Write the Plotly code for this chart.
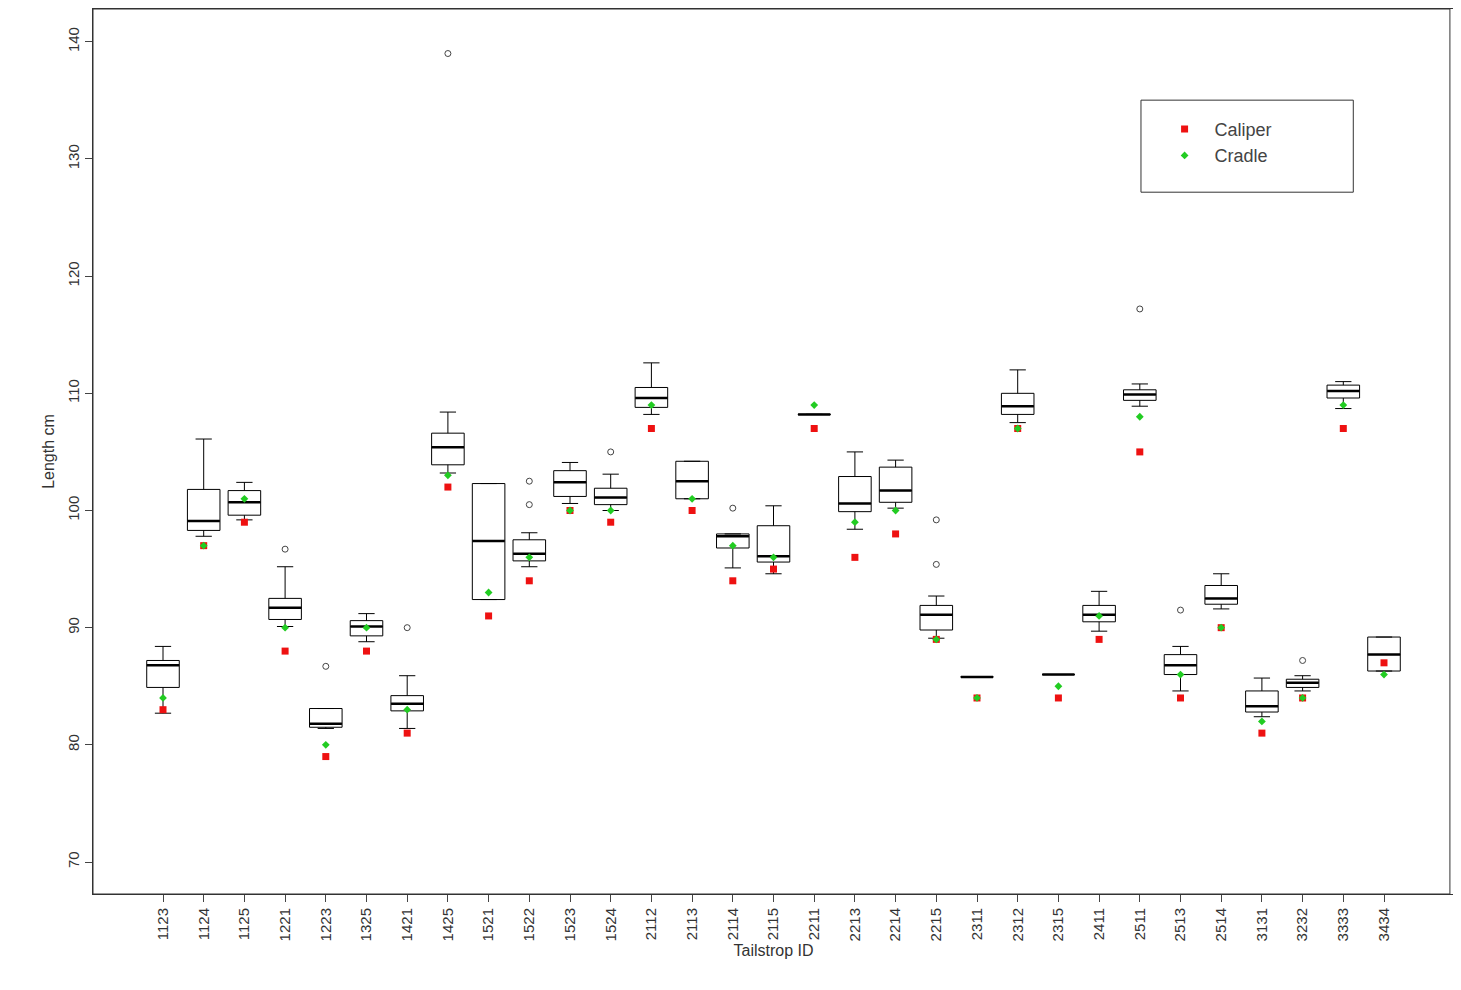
import plotly.graph_objects as go

ids = ["1123", "1124", "1125", "1221", "1223", "1325", "1421", "1425", "1521", "1522",
       "1523", "1524", "2112", "2113", "2114", "2115", "2211", "2213", "2214", "2215",
       "2311", "2312", "2315", "2411", "2511", "2513", "2514", "3131", "3232", "3333", "3434"]

lower = [82.7, 97.8, 99.2, 90.1, 81.4, 88.8, 81.4, 103.2, 92.4, 95.2,
         100.6, 100.0, 108.2, 101.0, 95.1, 94.6, 108.2, 98.4, 100.2, 89.1,
         85.8, 107.5, 86.0, 89.7, 108.9, 84.6, 91.6, 82.4, 84.6, 108.7, 86.3]
q1 = [84.9, 98.3, 99.6, 90.7, 81.5, 89.3, 82.9, 103.9, 92.4, 95.7,
      101.2, 100.5, 108.8, 101.0, 96.8, 95.6, 108.2, 99.9, 100.7, 89.8,
      85.8, 108.2, 86.0, 90.5, 109.4, 86.0, 92.0, 82.8, 84.9, 109.6, 86.3]
median = [86.8, 99.1, 100.7, 91.7, 81.8, 90.1, 83.5, 105.4, 97.4, 96.3,
          102.4, 101.1, 109.6, 102.5, 97.8, 96.1, 108.2, 100.6, 101.7, 91.1,
          85.8, 108.9, 86.0, 91.1, 109.9, 86.8, 92.5, 83.3, 85.3, 110.2, 87.7]
q3 = [87.2, 101.8, 101.7, 92.5, 83.1, 90.6, 84.2, 106.6, 102.3, 97.5,
      103.4, 101.9, 110.5, 104.2, 98.0, 98.7, 108.2, 102.9, 103.7, 91.9,
      85.8, 110.0, 86.0, 91.9, 110.3, 87.7, 93.6, 84.6, 85.6, 110.7, 89.2]
upper = [88.4, 106.1, 102.4, 95.2, 83.1, 91.2, 85.9, 108.4, 102.3, 98.1,
         104.1, 103.1, 112.6, 104.2, 98.0, 100.4, 108.2, 105.0, 104.3, 92.7,
         85.8, 112.0, 86.0, 93.1, 110.8, 88.4, 94.6, 85.7, 85.9, 111.0, 89.2]

outlier_ids = ["1221", "1223", "1421", "1425", "1522", "1522", "1524", "2114",
               "2215", "2215", "2511", "2513", "3232"]
outlier_vals = [96.7, 86.7, 90.0, 139.0, 102.5, 100.5, 105.0, 100.2,
                99.2, 95.4, 117.2, 91.5, 87.2]

caliper = [83, 97, 99, 88, 79, 88, 81, 102, 91, 94, 100, 99, 107, 100, 94, 95, 107, 96, 98, 89,
           84, 107, 84, 89, 105, 84, 90, 81, 84, 107, 87]
cradle = [84, 97, 101, 90, 80, 90, 83, 103, 93, 96, 100, 100, 109, 101, 97, 96, 109, 99, 100, 89,
          84, 107, 85, 91, 108, 86, 90, 82, 84, 109, 86]

fig = go.Figure()

fig.add_trace(go.Box(
    x=ids, q1=q1, median=median, q3=q3, lowerfence=lower, upperfence=upper,
    boxpoints=False, width=0.8, whiskerwidth=0.5,
    fillcolor="white", line=dict(color="black", width=1),
    showlegend=False, hoverinfo="skip",
))

# thick median bars, R style
fig.add_trace(go.Scatter(
    x=ids, y=median, mode="markers",
    marker=dict(symbol="line-ew", size=23, line=dict(color="black", width=2.5)),
    showlegend=False,
))

fig.add_trace(go.Scatter(
    x=outlier_ids, y=outlier_vals, mode="markers",
    marker=dict(symbol="circle-open", size=6, color="#444", line=dict(width=1)),
    showlegend=False,
))

fig.add_trace(go.Scatter(
    x=ids, y=caliper, mode="markers", name="Caliper",
    marker=dict(symbol="square", size=7, color="#ee1111"),
))
fig.add_trace(go.Scatter(
    x=ids, y=cradle, mode="markers", name="Cradle",
    marker=dict(symbol="diamond", size=6, color="#22cc22"),
))

# legend frame and plot frame
fig.add_shape(type="rect", xref="paper", yref="paper",
              x0=0.77, x1=0.926, y0=0.793, y1=0.897,
              line=dict(color="#333", width=1))
fig.add_shape(type="rect", xref="paper", yref="paper",
              x0=0, x1=0.997, y0=0, y1=1,
              line=dict(color="#333", width=1))

fig.update_layout(
    width=1450, height=975,
    margin=dict(l=85, r=4, t=1, b=89),
    plot_bgcolor="white", paper_bgcolor="white",
    font=dict(family="Liberation Sans, Arial", size=15, color="#333"),
    legend=dict(x=0.78, y=0.885, xanchor="left", yanchor="top",
                bgcolor="rgba(0,0,0,0)", font=dict(size=18, color="#444"),
                itemwidth=50, tracegroupgap=6),
)
fig.update_xaxes(
    type="category", categoryorder="array", categoryarray=ids,
    range=[-1.72, 31.72], tickangle=-90, ticks="outside", ticklen=7,
    showgrid=False, showline=True, linecolor="#333", mirror=True, automargin=False,
    title=dict(text="Tailstrop ID", font=dict(size=16), standoff=4),
)
fig.update_yaxes(
    range=[67.27, 142.8], tickvals=[70, 80, 90, 100, 110, 120, 130, 140],
    tickangle=-90, ticks="outside", ticklen=7,
    showgrid=False, zeroline=False, showline=True, linecolor="#333", mirror=True,
    automargin=False,
    title=dict(text="Length cm", font=dict(size=16), standoff=6),
)

fig.write_html("out.html")
